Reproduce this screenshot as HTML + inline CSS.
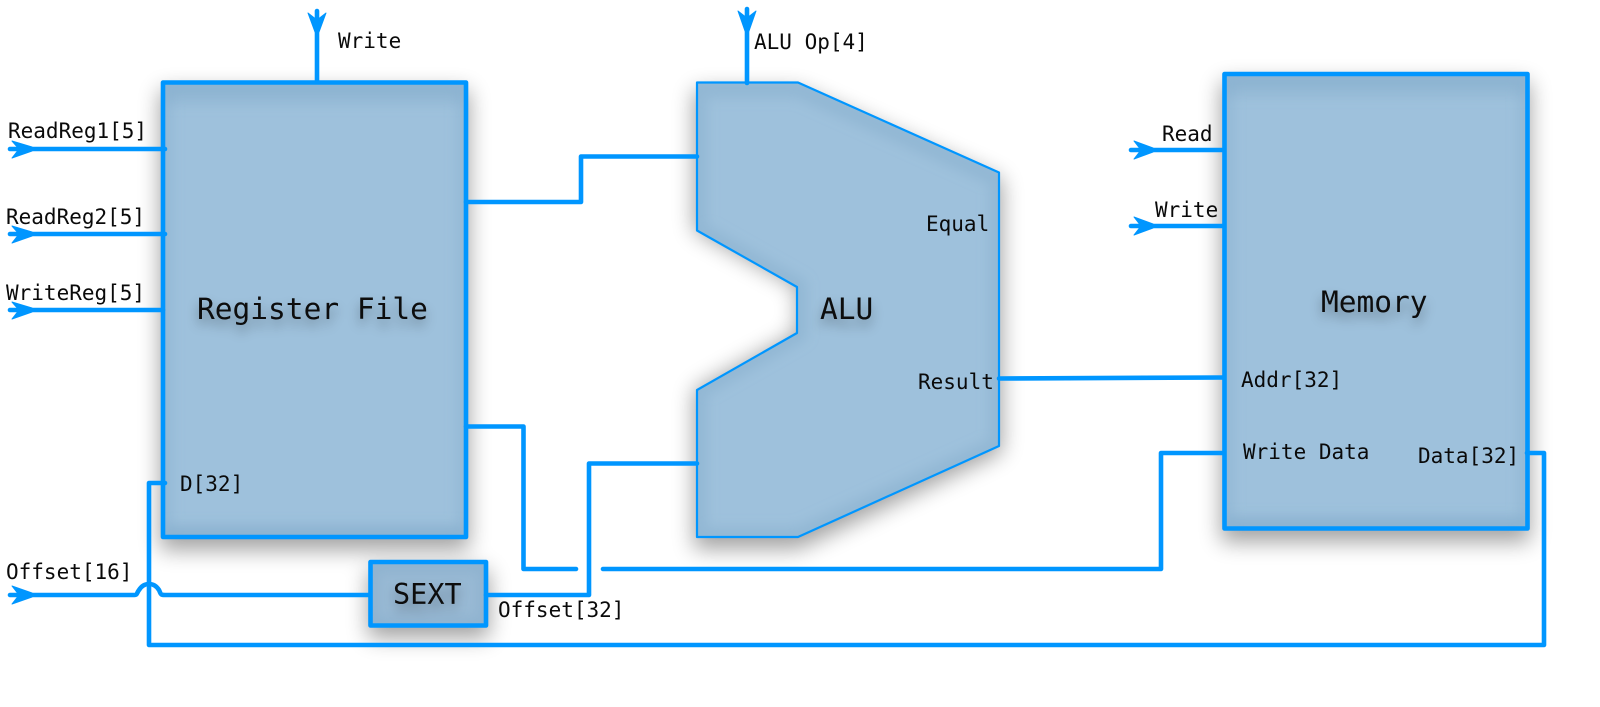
<!DOCTYPE html>
<html><head><meta charset="utf-8"><style>
html,body{margin:0;padding:0;background:#fff;width:1600px;height:707px;overflow:hidden}
svg{display:block}
text{font-family:"DejaVu Sans Mono","Liberation Mono",monospace;fill:#0a0a0a;font-size:21px}
.big{font-size:29.5px;filter:url(#ts)}
.w{fill:none;stroke:#0096ff;stroke-width:4.6;stroke-linejoin:round;stroke-linecap:round}
.a{fill:#0096ff;stroke:#0096ff;stroke-width:1;stroke-linejoin:round}
</style></head><body>
<svg width="1600" height="707" viewBox="0 0 1600 707" xmlns="http://www.w3.org/2000/svg">
<defs>
<filter id="ds" x="-20%" y="-20%" width="140%" height="140%"><feGaussianBlur stdDeviation="11"/></filter>
<filter id="ib" x="-20%" y="-20%" width="140%" height="140%"><feGaussianBlur stdDeviation="6"/></filter>
<filter id="ts" x="-20%" y="-50%" width="140%" height="250%">
<feGaussianBlur in="SourceAlpha" stdDeviation="6"/><feOffset dy="7"/>
<feComponentTransfer><feFuncA type="linear" slope="0.38"/></feComponentTransfer>
<feMerge><feMergeNode/><feMergeNode in="SourceGraphic"/></feMerge></filter>
<clipPath id="c1"><rect x="163" y="82.5" width="303" height="454.5"/></clipPath>
<clipPath id="c2"><path d="M697 82.5H798L999 172.5V446L798 537H697V390L797 333V287L697 230.5Z"/></clipPath>
<clipPath id="c3"><rect x="1224.5" y="74" width="303" height="454.5"/></clipPath>
<clipPath id="c4"><rect x="370.5" y="562" width="115.5" height="63.5"/></clipPath>
</defs>

<!-- drop shadows -->
<g fill="#000" opacity=".36" filter="url(#ds)">
<rect x="160" y="90" width="309" height="460"/>
<path d="M694 90H798L1002 180V452L798 549H694V390L797 333V287L694 230.5Z"/>
<rect x="1221" y="82" width="309" height="460"/>
<rect x="368" y="570" width="121" height="68"/>
</g>

<!-- Register File -->
<rect x="163" y="82.5" width="303" height="454.5" fill="#9ec1dc"/>
<g clip-path="url(#c1)"><path d="M163 92H466M163 537H466" fill="none" stroke="#7ba5c6" stroke-opacity=".35" stroke-width="24" filter="url(#ib)"/><rect x="163" y="82.5" width="303" height="454.5" fill="none" stroke="#7ba5c6" stroke-opacity=".3" stroke-width="18" filter="url(#ib)"/></g>
<rect x="163" y="82.5" width="303" height="454.5" class="w"/>

<!-- ALU -->
<path d="M697 82.5H798L999 172.5V446L798 537H697V390L797 333V287L697 230.5Z" fill="#9ec1dc"/>
<g clip-path="url(#c2)"><path d="M697 88H798L999 178V446L798 537H697V390L797 333V287L697 230.5Z" fill="none" stroke="#7ba5c6" stroke-opacity=".35" stroke-width="20" filter="url(#ib)"/></g>
<path d="M697 82.5H798L999 172.5V446L798 537H697V390L797 333V287L697 230.5Z" class="w" style="stroke-width:2.2"/>

<!-- Memory -->
<rect x="1224.5" y="74" width="303" height="454.5" fill="#9ec1dc"/>
<g clip-path="url(#c3)"><path d="M1224 84H1528M1224 528H1528" fill="none" stroke="#7ba5c6" stroke-opacity=".35" stroke-width="24" filter="url(#ib)"/><rect x="1224.5" y="74" width="303" height="454.5" fill="none" stroke="#7ba5c6" stroke-opacity=".3" stroke-width="18" filter="url(#ib)"/></g>
<rect x="1224.5" y="74" width="303" height="454.5" class="w"/>

<!-- SEXT -->
<rect x="370.5" y="562" width="115.5" height="63.5" fill="#98b9d4"/>
<g clip-path="url(#c4)"><rect x="370.5" y="565" width="115.5" height="60" fill="none" stroke="#7ba5c6" stroke-opacity=".35" stroke-width="14" filter="url(#ib)"/></g>
<rect x="370.5" y="562" width="115.5" height="63.5" class="w"/>

<!-- connectors -->
<path class="w" d="M317 11V82"/>
<path class="w" d="M747 9V83"/>
<path class="w" d="M10 149H165"/>
<path class="w" d="M10 234H165"/>
<path class="w" d="M10 310H163"/>
<path class="w" d="M10 595H133C138 595 136 594 139 590C144 582 154 582 159 590C161 594 160 595 165 595H370"/>
<path class="w" d="M1131 150H1224"/>
<path class="w" d="M1131 226H1224"/>
<path class="w" d="M466 202H581V156.5H697"/>
<path class="w" d="M466 426.5H523.5V569H576"/>
<path class="w" d="M603 569H1161V453H1224"/>
<path class="w" d="M486 595H589V463.5H697"/>
<path class="w" d="M999 378.5L1224 377.5"/>
<path class="w" d="M165 483H149V645H1544V453H1527"/>

<!-- arrowheads -->
<g class="a">
<path d="M308 13L317 20L326 13L319 32H315Z"/>
<path d="M738 11L747 18L756 11L749 31H745Z"/>
<path d="M12 141L19 149L12 158L32 151V147Z"/>
<path d="M12 226L19 234L12 243L32 236V232Z"/>
<path d="M12 302L19 310L12 319L32 312V308Z"/>
<path d="M12 586L19 595L12 604L32 597V593Z"/>
<path d="M1134 141L1141 150L1134 159L1153 152V148Z"/>
<path d="M1134 217L1141 226L1134 235L1153 228V224Z"/>
</g>

<!-- labels -->
<text x="8" y="138">ReadReg1[5]</text>
<text x="6" y="224">ReadReg2[5]</text>
<text x="6" y="300">WriteReg[5]</text>
<text x="338" y="48">Write</text>
<text x="754" y="49">ALU Op[4]</text>
<text x="180" y="491">D[32]</text>
<text x="6" y="579">Offset[16]</text>
<text x="498" y="617">Offset[32]</text>
<text x="926" y="231">Equal</text>
<text x="918" y="389">Result</text>
<text x="1162" y="141">Read</text>
<text x="1155" y="217">Write</text>
<text x="1241" y="387">Addr[32]</text>
<text x="1243" y="459">Write Data</text>
<text x="1418" y="463">Data[32]</text>
<text class="big" x="197" y="319">Register File</text>
<text class="big" x="820" y="319">ALU</text>
<text class="big" x="1321" y="312">Memory</text>
<text class="big" x="393" y="604" style="font-size:28.5px">SEXT</text>
</svg>
</body></html>
